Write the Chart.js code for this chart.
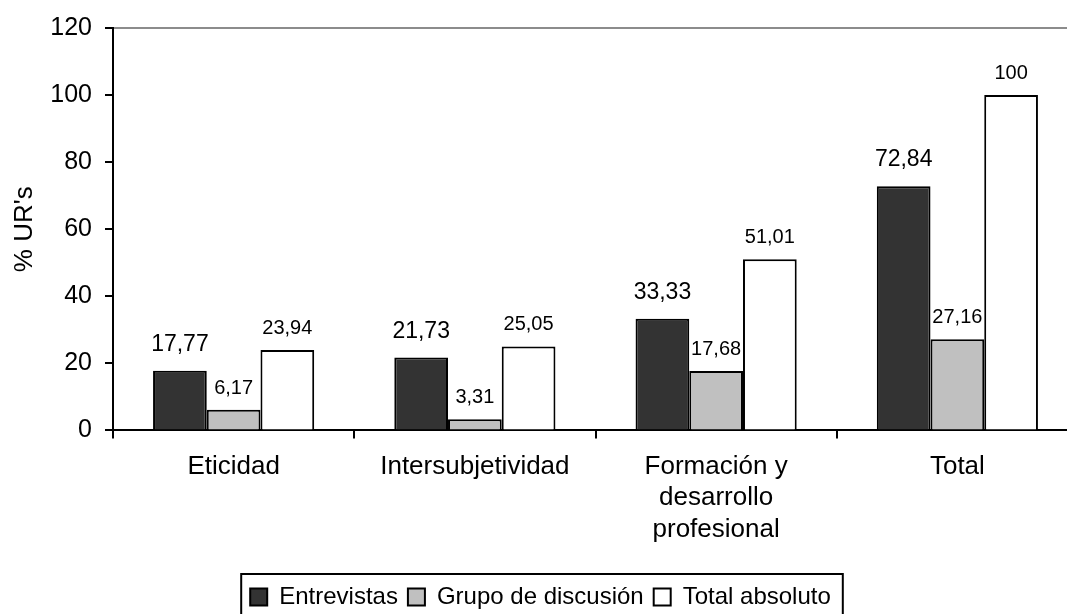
<!DOCTYPE html>
<html lang="es">
<head>
  <meta charset="UTF-8">
  <title>% UR's por categoría</title>
  <script src="https://cdn.jsdelivr.net/npm/chart.js"></script>
  <style>
    html, body {
      margin: 0;
      padding: 0;
      background: #fff;
      overflow: hidden;
    }
    /* the category axis runs a little past the right edge of the picture */
    .wrap {
      position: relative;
      width: 1078px;
      height: 614px;
    }
  </style>
</head>
<body>
  <div class="wrap">
    <canvas id="chart"></canvas>
  </div>

  <script>
    const categories = ["Eticidad", "Intersubjetividad", ["Formación y", "desarrollo", "profesional"], "Total"];
    const entrevistas = [17.77, 21.73, 33.33, 72.84];
    const grupoDiscusion = [6.17, 3.31, 17.68, 27.16];
    const totalAbsoluto = [23.94, 25.05, 51.01, 100];
    const seriesNames = ["Entrevistas", "Grupo de discusión", "Total absoluto"];
    const yTicks = [0, 20, 40, 60, 80, 100, 120];

    const FONT = "Arial, 'Liberation Sans', sans-serif";

    // value labels above each bar, with a decimal comma
    const barLabels = {
      id: "barLabels",
      afterDatasetsDraw(chart) {
        const ctx = chart.ctx;
        ctx.save();
        ctx.fillStyle = "#000";
        ctx.textAlign = "center";
        ctx.textBaseline = "alphabetic";
        chart.data.datasets.forEach((ds, i) => {
          const meta = chart.getDatasetMeta(i);
          ctx.font = (i === 0 ? "23px " : "20px ") + FONT;
          const gap = i === 0 ? 20 : 16;
          meta.data.forEach((bar, j) => {
            const txt = String(ds.data[j]).replace(".", ",");
            ctx.fillText(txt, bar.x, bar.y - gap);
          });
        });
        ctx.restore();
      }
    };

    // frame around the legend (its bottom edge falls off the picture)
    const legendFrame = {
      id: "legendFrame",
      afterDraw(chart) {
        const boxes = chart.legend && chart.legend.legendHitBoxes;
        if (!boxes || !boxes.length) return;
        let left = Infinity, right = -Infinity, top = Infinity;
        boxes.forEach(b => {
          left = Math.min(left, b.left);
          right = Math.max(right, b.left + b.width);
          top = Math.min(top, b.top);
        });
        const ctx = chart.ctx;
        ctx.save();
        ctx.strokeStyle = "#000";
        ctx.lineWidth = 2;
        ctx.strokeRect(left - 9, top - 11, right - left + 21, chart.height - top + 14);
        ctx.restore();
      }
    };

    const ctx = document.getElementById("chart").getContext("2d");

    new Chart(ctx, {
      type: "bar",
      data: {
        labels: categories,
        datasets: [
          {
            label: seriesNames[0],
            data: entrevistas,
            backgroundColor: "#333333",
            borderColor: "#000",
            borderWidth: 2
          },
          {
            label: seriesNames[1],
            data: grupoDiscusion,
            backgroundColor: "#c0c0c0",
            borderColor: "#000",
            borderWidth: 2
          },
          {
            label: seriesNames[2],
            data: totalAbsoluto,
            backgroundColor: "#ffffff",
            borderColor: "#000",
            borderWidth: 2
          }
        ]
      },
      options: {
        responsive: true,
        maintainAspectRatio: false,
        animation: false,
        datasets: {
          bar: {
            barPercentage: 1.0,
            categoryPercentage: 0.668
          }
        },
        layout: {
          padding: { top: 22, left: 3, right: 0, bottom: -5 }
        },
        plugins: {
          tooltip: { enabled: false },
          legend: {
            position: "bottom",
            labels: {
              color: "#000",
              font: { family: FONT, size: 24 },
              boxWidth: 17,
              boxHeight: 17,
              padding: 10
            }
          }
        },
        scales: {
          x: {
            afterFit(scale) {
              scale.height += 17;
            },
            grid: {
              drawOnChartArea: false,
              color: "#000",
              lineWidth: 2,
              tickLength: 8
            },
            border: { color: "#000", width: 2 },
            ticks: {
              color: "#000",
              font: { family: FONT, size: 26, lineHeight: 1.2 },
              padding: 13,
              maxRotation: 0,
              autoSkip: false
            }
          },
          y: {
            min: 0,
            max: 120,
            afterBuildTicks(scale) {
              scale.ticks = yTicks.map(v => ({ value: v }));
            },
            afterFit(scale) {
              scale.width = 110;
            },
            grid: {
              color: c => (c.tick && c.tick.value === 120 ? "#8c8c8c" : "rgba(0,0,0,0)"),
              tickColor: "#000",
              lineWidth: 2,
              tickLength: 8
            },
            border: { color: "#000", width: 2 },
            ticks: {
              color: "#000",
              font: { family: FONT, size: 25 },
              padding: 13
            },
            title: {
              display: true,
              text: "% UR's",
              color: "#000",
              font: { family: FONT, size: 26 },
              padding: { top: 6, bottom: 10 }
            }
          }
        }
      },
      plugins: [barLabels, legendFrame]
    });
  </script>
</body>
</html>
